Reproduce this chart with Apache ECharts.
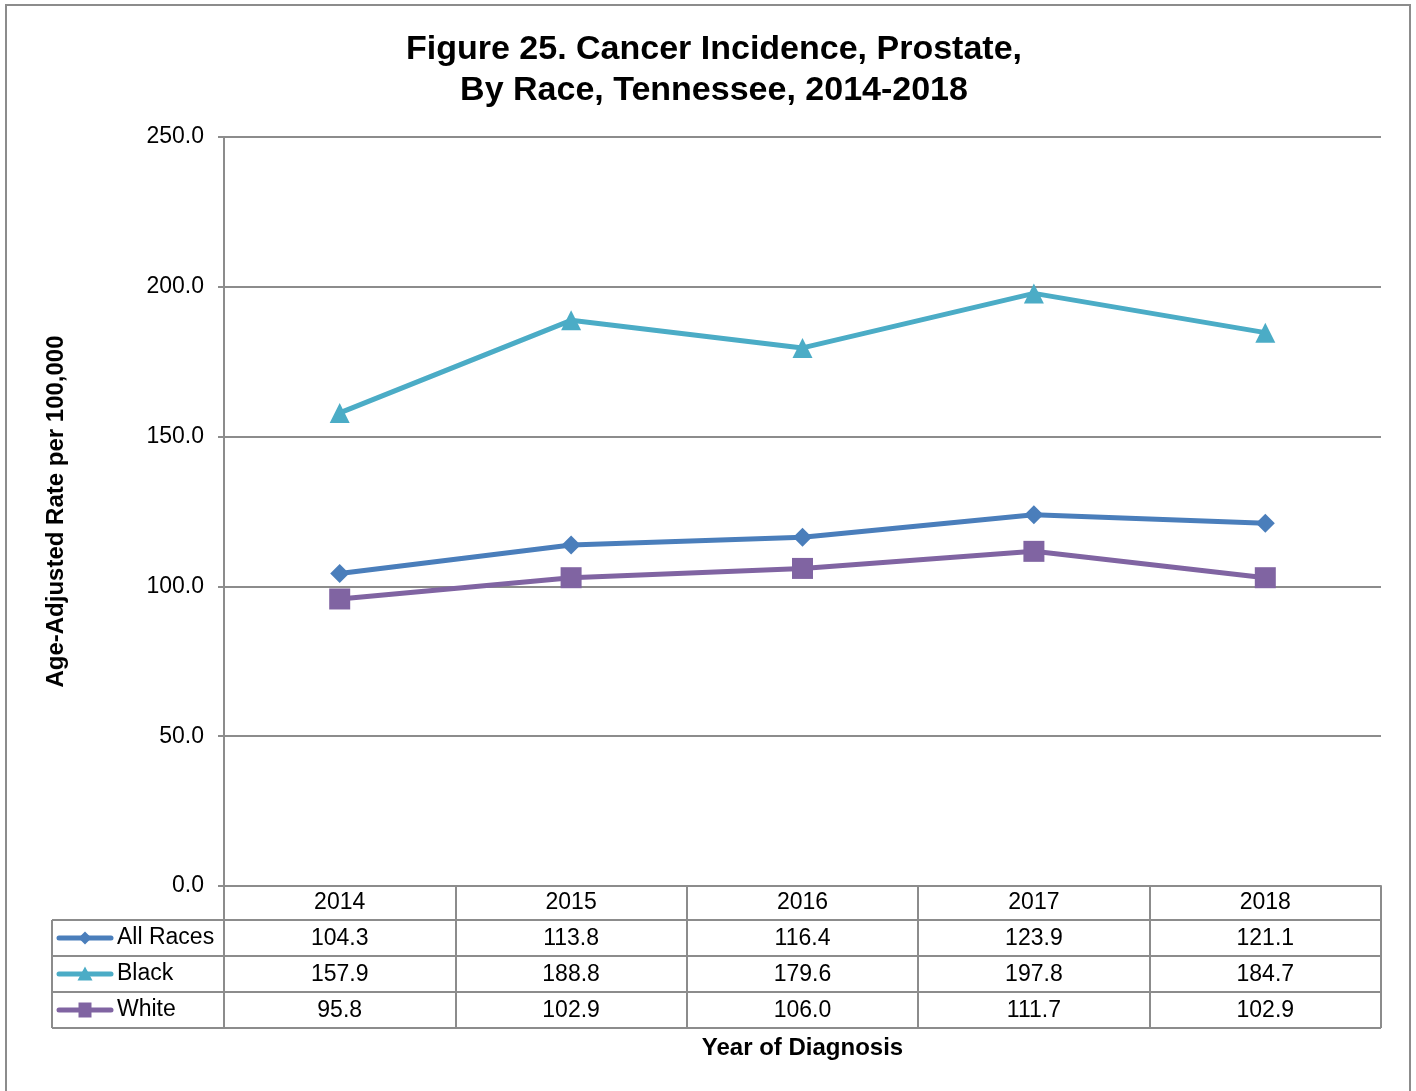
<!DOCTYPE html>
<html>
<head>
<meta charset="utf-8">
<script src="https://cdn.jsdelivr.net/npm/echarts@6/dist/echarts.min.js"></script>
<style>
  html, body { margin: 0; padding: 0; background: #fff; }
  #chart { width: 1416px; height: 1091px; }
</style>
</head>
<body>
<div id="chart"></div>
<script>
var years = ["2014", "2015", "2016", "2017", "2018"];
var allRaces = [104.3, 113.8, 116.4, 123.9, 121.1];
var black = [157.9, 188.8, 179.6, 197.8, 184.7];
var white = [95.8, 102.9, 106.0, 111.7, 102.9];
var seriesNames = ["All Races", "Black", "White"];
var colors = ["#4a7ebb", "#4bacc6", "#8064a2"];
var symbols = ["diamond", "triangle", "rect"];
var symbolSizes = [19, 20, 21];

var FONT = "'Liberation Sans', Arial, sans-serif";
var GRID = { left: 224, right: 35, top: 137, bottom: 205 };
var ROW_H = 36;
var HEADER_H = 34;
var LEFT_COL = 52;
var LINE_GRAY = "#8c8c8c";
var FS = 23;

var chart = echarts.init(document.getElementById("chart"));

var seriesData = [allRaces, black, white];
var series = seriesData.map(function (d, i) {
  return {
    name: seriesNames[i],
    type: "line",
    data: d,
    symbol: symbols[i],
    symbolSize: symbolSizes[i],
    itemStyle: { color: colors[i] },
    lineStyle: { color: colors[i], width: 5 },
    z: 3 + (2 - i)
  };
});

chart.setOption({
  animation: false,
  textStyle: { fontFamily: FONT },
  title: {
    text: "Figure 25. Cancer Incidence, Prostate,\nBy Race, Tennessee, 2014-2018",
    left: 709,
    textAlign: "center",
    top: 24,
    textStyle: { fontFamily: FONT, fontSize: 34, fontWeight: "bold", color: "#000", lineHeight: 41 }
  },
  grid: GRID,
  xAxis: {
    type: "category",
    data: years,
    boundaryGap: true,
    name: "Year of Diagnosis",
    nameLocation: "middle",
    nameGap: 150,
    nameTextStyle: { fontFamily: FONT, fontSize: 24, fontWeight: "bold", color: "#000" },
    axisLine: { show: true, lineStyle: { color: LINE_GRAY, width: 2 } },
    axisTick: { show: true, length: HEADER_H + ROW_H * 3, lineStyle: { color: LINE_GRAY, width: 2 } },
    axisLabel: { color: "#000", fontSize: FS, fontFamily: FONT, margin: 5 },
    splitLine: { show: false }
  },
  yAxis: {
    type: "value",
    min: 0,
    max: 250,
    interval: 50,
    name: "Age-Adjusted Rate per 100,000",
    nameLocation: "middle",
    nameGap: 156,
    nameRotate: 90,
    nameTextStyle: { fontFamily: FONT, fontSize: 24, fontWeight: "bold", color: "#000" },
    axisLine: { show: true, lineStyle: { color: LINE_GRAY, width: 2 } },
    axisTick: { show: true, length: 6, lineStyle: { color: LINE_GRAY, width: 2 } },
    axisLabel: {
      color: "#000", fontSize: FS, fontFamily: FONT, margin: 20,
      formatter: function (v) { return v.toFixed(1); }
    },
    splitLine: { lineStyle: { color: LINE_GRAY, width: 2 } }
  },
  series: series
});

// data table under the plot, positioned from the axis scale
function buildTable() {
  var xRight = 1416 - GRID.right;
  var y0 = 1091 - GRID.bottom;
  var els = [];

  // outer frame of the figure
  els.push({
    type: "rect",
    shape: { x: 6, y: 5, width: 1404, height: 1100 },
    style: { fill: "none", stroke: LINE_GRAY, lineWidth: 2 },
    silent: true
  });

  // horizontal rules
  for (var r = 0; r <= 3; r++) {
    var y = y0 + HEADER_H + r * ROW_H;
    els.push({
      type: "line",
      shape: { x1: LEFT_COL, y1: y, x2: xRight, y2: y },
      style: { stroke: LINE_GRAY, lineWidth: 2 },
      silent: true
    });
  }
  // left edge of legend column
  els.push({
    type: "line",
    shape: { x1: LEFT_COL, y1: y0 + HEADER_H, x2: LEFT_COL, y2: y0 + HEADER_H + ROW_H * 3 },
    style: { stroke: LINE_GRAY, lineWidth: 2 },
    silent: true
  });

  seriesData.forEach(function (d, i) {
    var cy = y0 + HEADER_H + ROW_H * i + ROW_H / 2;
    // legend key
    els.push({
      type: "line",
      shape: { x1: 59, y1: cy, x2: 111, y2: cy },
      style: { stroke: colors[i], lineWidth: 5, lineCap: "round" },
      silent: true
    });
    var sz = [13, 13, 13][i];
    var key;
    if (i === 0) {
      key = { type: "polygon", shape: { points: [[85, cy - sz / 2], [85 + sz / 2, cy], [85, cy + sz / 2], [85 - sz / 2, cy]] } };
    } else if (i === 1) {
      key = { type: "polygon", shape: { points: [[85, cy - sz / 2 - 1], [85 + sz / 2 + 1, cy + sz / 2], [85 - sz / 2 - 1, cy + sz / 2]] } };
    } else {
      key = { type: "rect", shape: { x: 85 - sz / 2, y: cy - sz / 2 - 1, width: sz, height: sz + 2 } };
    }
    key.style = { fill: colors[i] };
    key.silent = true;
    els.push(key);
    els.push({
      type: "text",
      x: 117, y: cy,
      style: { text: seriesNames[i], font: FS + "px " + FONT, fill: "#000", align: "left", verticalAlign: "middle" },
      silent: true
    });
    // values
    d.forEach(function (v, j) {
      var cx = chart.convertToPixel({ xAxisIndex: 0 }, years[j]);
      els.push({
        type: "text",
        x: cx, y: cy + 1,
        style: { text: v.toFixed(1), font: FS + "px " + FONT, fill: "#000", align: "center", verticalAlign: "middle" },
        silent: true
      });
    });
  });
  return els;
}

chart.setOption({ graphic: buildTable() });
</script>
</body>
</html>
